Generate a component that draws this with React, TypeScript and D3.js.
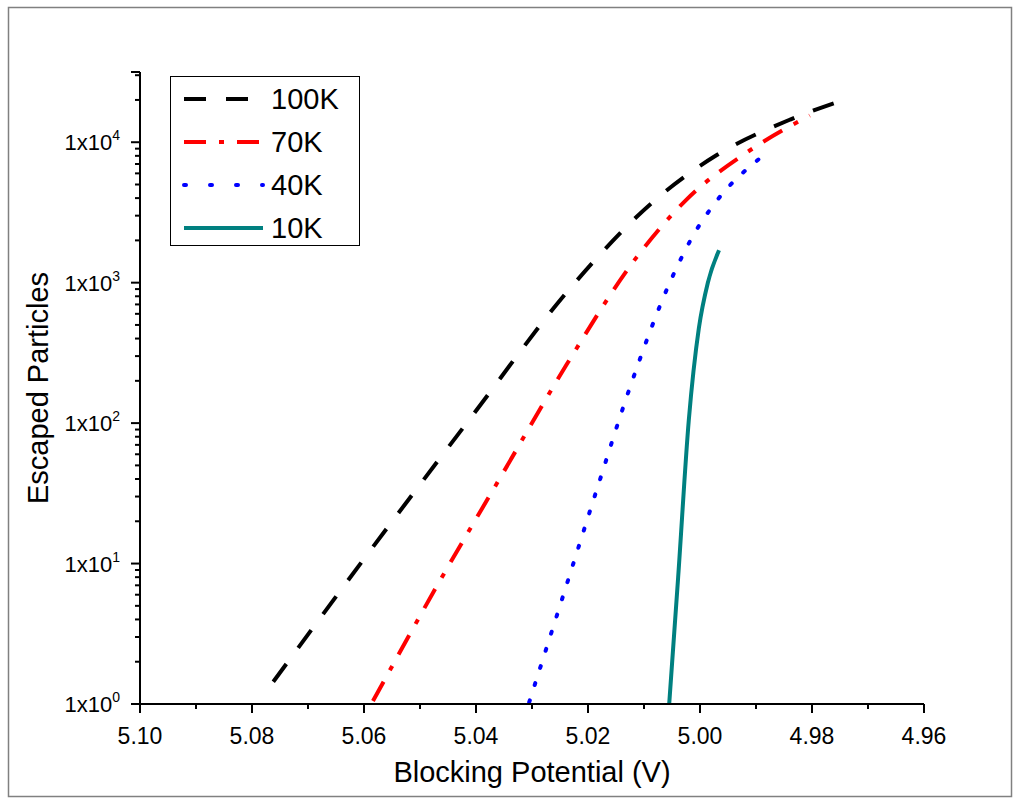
import * as d3 from 'd3';
import React from 'react';

const seriesNames = ['100K', '70K', '40K', '10K'];
const colors = ['#000000', '#ff0000', '#0000ff', '#008080'];
const dashes = ['22,20', '22,13,5,13', '2,16', ''];

const v100 = [[5.0762, 1.44], [5.0588, 12.5], [5.0411, 107], [5.023, 930], [5.0086, 3700], [4.997, 8100], [4.9839, 14500], [4.9736, 20500]];
const v70 = [[5.0584, 1.05], [5.047, 6.9], [5.0355, 42], [5.0239, 258], [5.0113, 1520], [5.0025, 3870], [4.991, 8800], [4.9804, 15500]];
const v40 = [[5.0305, 1.03], [5.0245, 5.8], [5.0186, 32], [5.0125, 180], [5.0054, 1000], [5.0007, 2350], [4.9973, 3700], [4.9886, 8100]];
const v10 = [[5.0055, 1], [5.0039, 8], [5.002, 105], [5.0002, 475], [4.9986, 1000], [4.9966, 1700]];
const allSeries = [v100, v70, v40, v10];

const xTicks = [5.10, 5.08, 5.06, 5.04, 5.02, 5.00, 4.98, 4.96];
const yTicks = [0, 1, 2, 3, 4];

export default function App() {
  const left = 140, right = 924, top = 72, bottom = 704;
  const x = d3.scaleLinear().domain([5.10, 4.96]).range([left, right]);
  const y = d3.scaleLog().domain([1, Math.pow(10, 4.5)]).range([bottom, top]);
  const line = d3.line<number[]>().x(d => x(d[0])).y(d => y(d[1])).curve(d3.curveMonotoneX);
  const font = '"Liberation Sans", Arial, sans-serif';

  const minorX: number[] = [];
  for (let i = 0; i < 7; i++) minorX.push(5.09 - i * 0.02);
  const minorY: number[] = [];
  for (let e = 0; e < 5; e++) for (let m = 2; m <= 9; m++) {
    const v = m * Math.pow(10, e);
    if (v <= Math.pow(10, 4.5)) minorY.push(v);
  }

  return (
    <svg width={1017} height={803} style={{ position: 'absolute', left: 0, top: 0, fontFamily: font }}>
      <rect x={0} y={0} width={1017} height={803} fill="#fff" />
      <rect x={8.5} y={7.5} width={1003} height={789} fill="none" stroke="#808080" strokeWidth={1.5} />
      {allSeries.map((s, i) => (
        <path key={i} d={line(s) || ''} fill="none" stroke={colors[i]} strokeWidth={4}
          strokeDasharray={dashes[i]} strokeLinecap={i === 2 ? 'round' : 'butt'} />
      ))}
      <line x1={left} x2={right} y1={bottom} y2={bottom} stroke="#000" strokeWidth={2} />
      <line x1={left} x2={left} y1={top} y2={bottom} stroke="#000" strokeWidth={2} />
      {xTicks.map(t => (
        <g key={t}>
          <line x1={x(t)} x2={x(t)} y1={bottom} y2={bottom + 9} stroke="#000" strokeWidth={2} />
          <text x={x(t)} y={bottom + 40} textAnchor="middle" fontSize={23}>{t.toFixed(2)}</text>
        </g>
      ))}
      {minorX.map(t => <line key={t} x1={x(t)} x2={x(t)} y1={bottom} y2={bottom + 5} stroke="#000" strokeWidth={2} />)}
      <line x1={left - 9} x2={left} y1={top} y2={top} stroke="#000" strokeWidth={2} />
      {yTicks.map(e => (
        <g key={e}>
          <line x1={left - 9} x2={left} y1={y(Math.pow(10, e))} y2={y(Math.pow(10, e))} stroke="#000" strokeWidth={2} />
          <text x={left - 20} y={y(Math.pow(10, e)) + 8} textAnchor="end" fontSize={22}>
            1x10<tspan fontSize={14} dy={-10}>{e}</tspan>
          </text>
        </g>
      ))}
      {minorY.map(v => <line key={v} x1={left - 5} x2={left} y1={y(v)} y2={y(v)} stroke="#000" strokeWidth={2} />)}
      <text x={(left + right) / 2} y={782} textAnchor="middle" fontSize={29}>Blocking Potential (V)</text>
      <text transform={`translate(48,${(top + bottom) / 2}) rotate(-90)`} textAnchor="middle" fontSize={29}>Escaped Particles</text>
      <rect x={170.5} y={76.5} width={189} height={169} fill="#fff" stroke="#000" strokeWidth={1} />
      {seriesNames.map((n, i) => (
        <g key={n}>
          <line x1={184} x2={263} y1={99 + i * 43} y2={99 + i * 43} stroke={colors[i]} strokeWidth={4}
            strokeDasharray={i === 2 ? '2,24' : dashes[i]} strokeLinecap={i === 2 ? 'round' : 'butt'} />
          <text x={271} y={109 + i * 43} fontSize={29}>{n}</text>
        </g>
      ))}
    </svg>
  );
}
